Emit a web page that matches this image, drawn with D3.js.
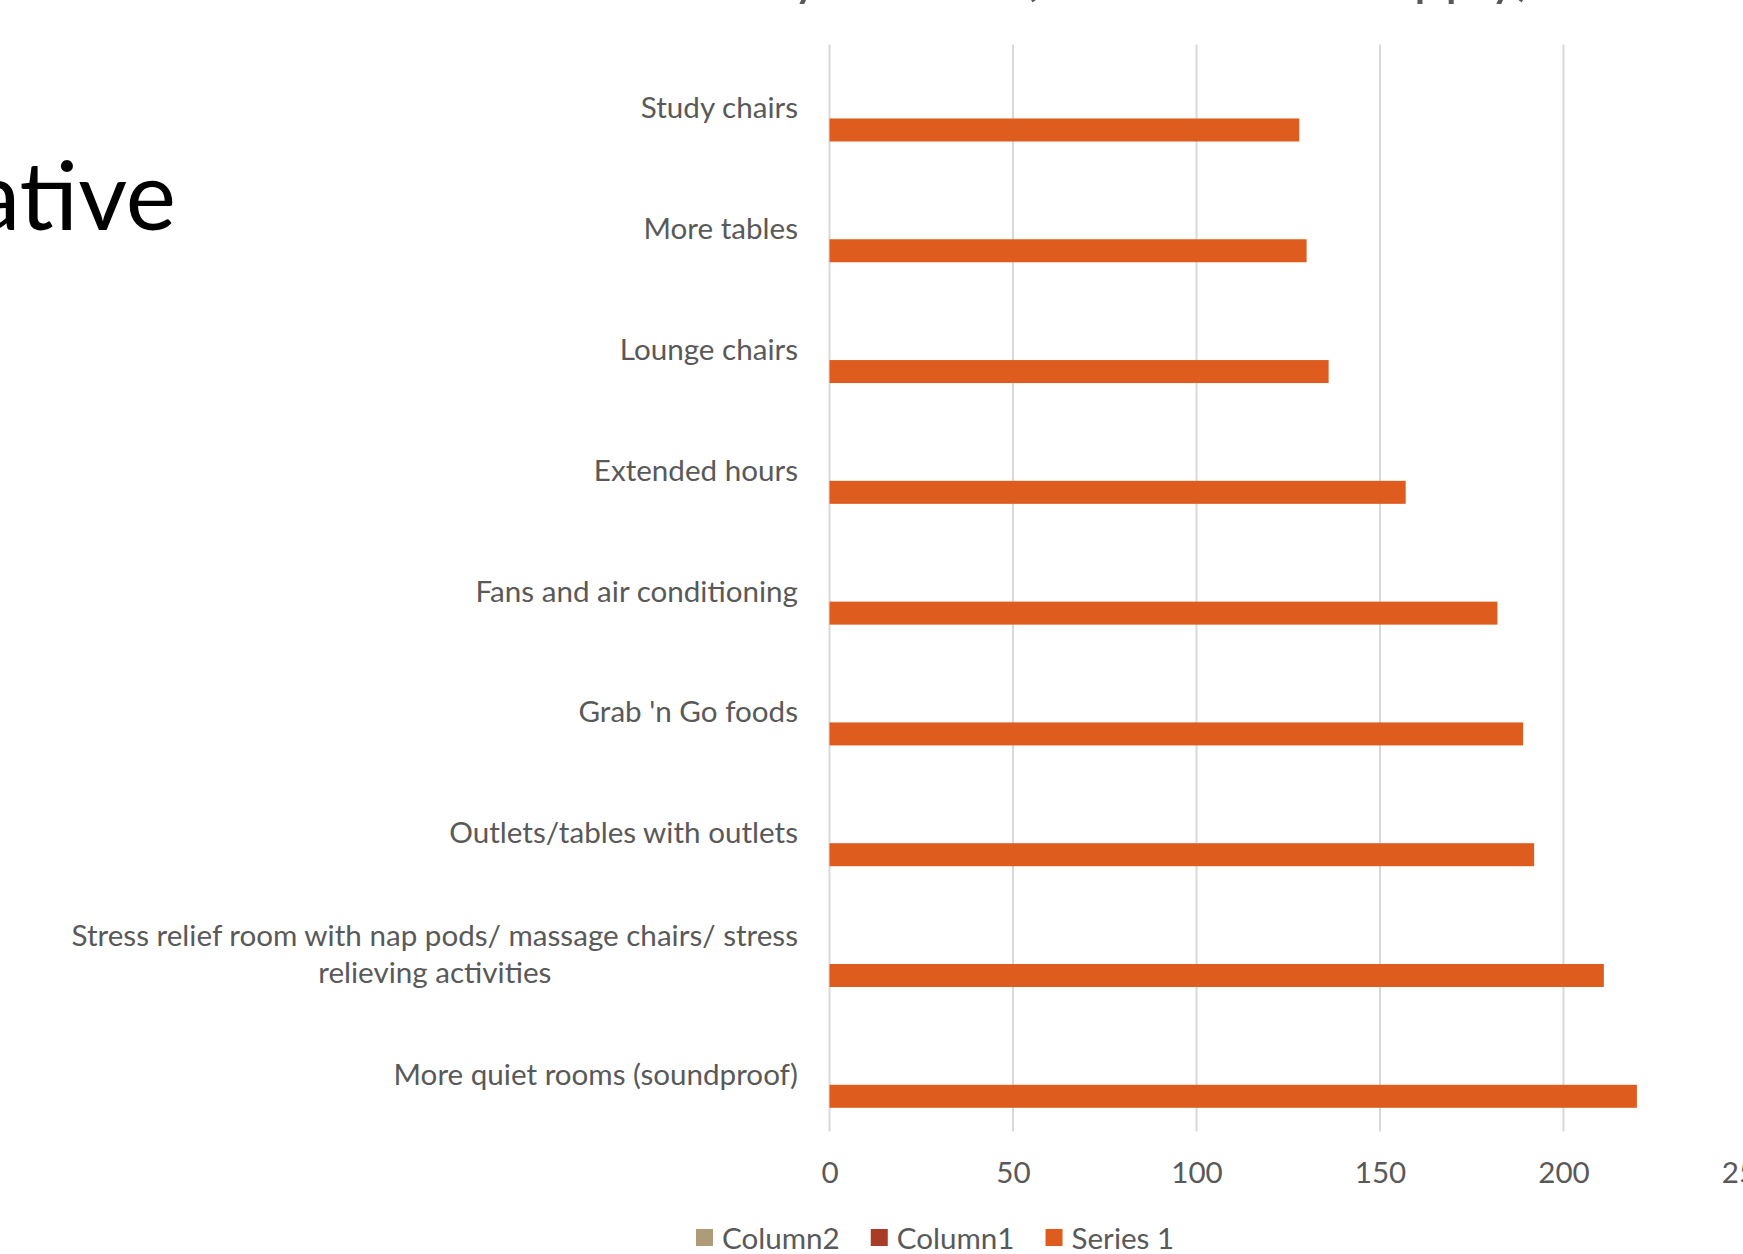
<!DOCTYPE html>
<html>
<head>
<meta charset="utf-8">
<script src="https://cdn.jsdelivr.net/npm/d3@7"></script>
<style>
  body { margin: 0; background: #fff; }
  text { font-family: Lato, "Open Sans", sans-serif; }
</style>
</head>
<body>
<div id="vis"></div>
<script>
const FRAME_WIDTH = 1743;
const FRAME_HEIGHT = 1254;
const MARGINS = {left: 829.5, right: -4, top: 44.5, bottom: 122.4};

// categories top to bottom, as drawn
const categories = [
  "Study chairs",
  "More tables",
  "Lounge chairs",
  "Extended hours",
  "Fans and air conditioning",
  "Grab 'n Go foods",
  "Outlets/tables with outlets",
  "Stress relief room with nap pods/ massage chairs/ stress relieving activities",
  "More quiet rooms (soundproof)"
];
const series1 = [128, 130, 136, 157, 182, 189, 192, 211, 220];
const seriesNames = ["Column2", "Column1", "Series 1"];
const seriesColors = ["#b09b79", "#a83c27", "#de5d1e"];
const xTicks = [0, 50, 100, 150, 200, 250];

const TEXT_COLOR = "#595959";
const FONT_SIZE = 29.6;

const FRAME = d3.select("#vis")
  .append("svg")
    .attr("width", FRAME_WIDTH)
    .attr("height", FRAME_HEIGHT);

const VIS_WIDTH = FRAME_WIDTH - MARGINS.left - MARGINS.right;
const VIS_HEIGHT = FRAME_HEIGHT - MARGINS.top - MARGINS.bottom;

const X_SCALE = d3.scaleLinear().domain([0, 250]).range([0, VIS_WIDTH]);
const Y_SCALE = d3.scaleBand().domain(categories).range([0, VIS_HEIGHT]);
// three series slots per category, Series 1 sits in the lowest one
const SUB_SCALE = d3.scaleBand().domain(seriesNames)
  .range([0, Y_SCALE.bandwidth()]).paddingInner(0).paddingOuter(1.125).align(0.54);

// slide title fragment on the left
FRAME.append("text")
  .attr("x", 176)
  .attr("y", 230)
  .attr("text-anchor", "end")
  .attr("font-size", 95)
  .attr("fill", "#000")
  .text("Qualitative");

// chart title, mostly cut off at the top
FRAME.append("text")
  .attr("x", 1532)
  .attr("y", -6)
  .attr("text-anchor", "end")
  .attr("font-size", 56)
  .attr("fill", TEXT_COLOR)
  .text("What would make the library better? (Check all that apply)");

const PLOT = FRAME.append("g")
  .attr("transform", "translate(" + MARGINS.left + "," + MARGINS.top + ")");

// gridlines
PLOT.selectAll(".grid")
  .data(xTicks)
  .enter()
  .append("line")
    .attr("x1", d => X_SCALE(d))
    .attr("x2", d => X_SCALE(d))
    .attr("y1", 0)
    .attr("y2", VIS_HEIGHT)
    .attr("stroke", "#d9d9d9")
    .attr("stroke-width", 2);

// bars (only Series 1 has values)
PLOT.selectAll(".bar")
  .data(categories)
  .enter()
  .append("rect")
    .attr("x", X_SCALE(0))
    .attr("y", d => Y_SCALE(d) + SUB_SCALE("Series 1"))
    .attr("width", (d, i) => X_SCALE(series1[i]) - X_SCALE(0))
    .attr("height", SUB_SCALE.bandwidth())
    .attr("fill", seriesColors[2]);

// x axis tick labels
const xAxis = PLOT.append("g")
  .attr("transform", "translate(0," + VIS_HEIGHT + ")")
  .call(d3.axisBottom(X_SCALE).tickValues(xTicks).tickSize(0).tickPadding(30));
xAxis.select(".domain").remove();
xAxis.selectAll("text")
  .attr("font-size", FONT_SIZE)
  .attr("font-family", "Lato")
  .attr("fill", TEXT_COLOR);

// category labels
const LABEL_RIGHT = 798 - MARGINS.left;
const LINE_H = 37.8;
categories.forEach((c, i) => {
  const cy = Y_SCALE(c) + Y_SCALE.bandwidth() / 2 + 2;
  const lines = c.length > 40
    ? ["Stress relief room with nap pods/ massage chairs/ stress", "relieving activities"]
    : [c];
  const t = PLOT.append("text")
    .attr("font-size", FONT_SIZE)
    .attr("fill", TEXT_COLOR)
    .attr("dominant-baseline", "central");
  if (lines.length === 1) {
    t.attr("x", LABEL_RIGHT).attr("y", cy).attr("text-anchor", "end").text(c);
  } else {
    t.attr("text-anchor", "middle");
    const spans = lines.map((l, j) => t.append("tspan")
      .attr("y", cy + (j - (lines.length - 1) / 2) * LINE_H)
      .text(l));
    const w = d3.max(spans, s => s.node().getComputedTextLength());
    spans.forEach(s => s.attr("x", LABEL_RIGHT - w / 2));
  }
});

// legend
const LEGEND = FRAME.append("g").attr("transform", "translate(0,1237.5)");
let lx = 696;
seriesNames.forEach((name, i) => {
  LEGEND.append("rect")
    .attr("x", lx).attr("y", -8.5)
    .attr("width", 17).attr("height", 17)
    .attr("fill", seriesColors[i]);
  const t = LEGEND.append("text")
    .attr("x", lx + 26).attr("y", 0)
    .attr("dominant-baseline", "central")
    .attr("font-size", FONT_SIZE)
    .attr("fill", TEXT_COLOR)
    .text(name);
  lx += 26 + t.node().getComputedTextLength() + 31;
});
</script>
</body>
</html>
